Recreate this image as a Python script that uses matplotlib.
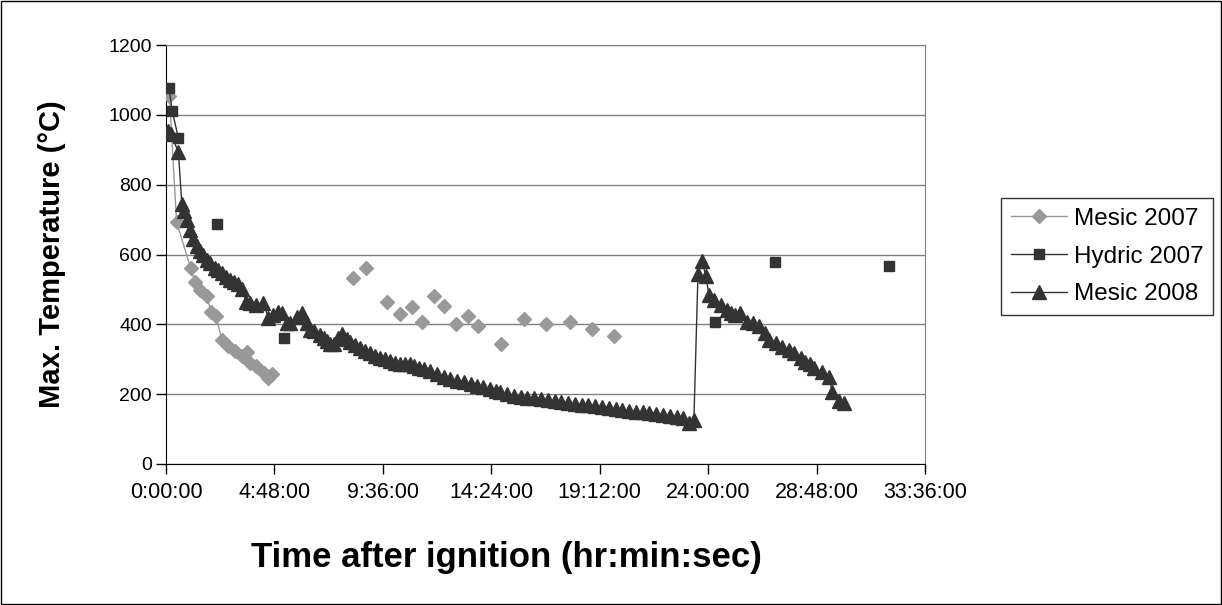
import matplotlib
matplotlib.use("Agg")
import matplotlib.pyplot as plt
from matplotlib.patches import Rectangle
from matplotlib.ticker import FixedLocator

plt.rcParams['font.family'] = ['Liberation Sans', 'DejaVu Sans']

# hours after ignition, max temperature (deg C)
mesic07_hours = [0.15, 0.47, 1.09, 1.28, 1.50, 1.80, 2.00, 2.20, 2.48, 2.75, 3.05, 3.35,
                 3.57, 3.72, 4.00, 4.35, 4.50, 4.68]
mesic07_temp = [1055, 692, 562, 522, 498, 482, 435, 425, 355, 338, 325, 308,
                320, 290, 280, 260, 246, 258]
mesic07_late_hours = [8.30, 8.85, 9.80, 10.35, 10.90, 11.33, 11.86, 12.30, 12.84, 13.37,
                      13.81, 14.82, 15.83, 16.83, 17.87, 18.86, 19.82]
mesic07_late_temp = [534, 562, 465, 431, 449, 408, 482, 453, 402, 425,
                     396, 345, 415, 402, 408, 386, 368]

hydric07_hours = [0.13, 0.28, 0.55]
hydric07_temp = [1077, 1010, 933]
hydric07_late_hours = [2.25, 5.24, 24.30, 26.96, 32.00]
hydric07_late_temp = [687, 362, 408, 578, 567]

mesic08_hours = [0.10, 0.22, 0.55, 0.70, 0.78, 0.92, 1.06, 1.21, 1.36, 1.50, 1.65, 1.80,
                 1.95, 2.17, 2.32, 2.47, 2.65, 2.84, 3.02, 3.20, 3.35, 3.55, 3.72, 4.00,
                 4.31, 4.53, 4.75, 4.95, 5.13, 5.35, 5.50, 5.79, 6.00, 6.24, 6.38, 6.53,
                 6.82, 7.00, 7.12, 7.27, 7.45, 7.62, 7.78, 8.00, 8.15, 8.35, 8.60, 8.80,
                 9.04, 9.25, 9.48, 9.70, 9.93, 10.15, 10.37, 10.60, 10.80, 10.96, 11.20,
                 11.40, 11.70, 12.00, 12.30, 12.58, 12.90, 13.17, 13.50, 13.77, 14.05,
                 14.35, 14.60, 14.80, 15.10, 15.40, 15.70, 16.00, 16.30, 16.60, 16.90,
                 17.20, 17.50, 17.80, 18.10, 18.40, 18.70, 19.00, 19.30, 19.60, 19.90,
                 20.20, 20.50, 20.80, 21.10, 21.40, 21.70, 22.00, 22.30, 22.60, 22.90,
                 23.15, 23.37, 23.55, 23.74, 23.90, 24.04, 24.26, 24.55, 24.84, 25.00,
                 25.20, 25.43, 25.73, 26.00, 26.23, 26.50, 26.70, 27.00, 27.28, 27.58,
                 27.80, 28.10, 28.30, 28.50, 28.70, 29.05, 29.35, 29.50, 29.80, 30.00]
mesic08_temp = [955, 945, 893, 745, 725, 700, 670, 645, 625, 610, 600, 585,
                575, 562, 555, 546, 535, 527, 520, 515, 500, 465, 460, 456,
                462, 418, 427, 435, 432, 405, 403, 420, 432, 405, 385, 380,
                370, 360, 352, 345, 345, 360, 372, 358, 350, 340, 333, 325,
                317, 310, 305, 300, 295, 290, 287, 285, 287, 282, 275,
                272, 265, 258, 250, 243, 238, 234, 228, 224, 220,
                215, 210, 205, 200, 196, 192, 190, 188, 185, 182,
                180, 177, 175, 172, 170, 168, 166, 164, 161, 158,
                155, 153, 150, 148, 146, 143, 140, 138, 135, 133,
                118, 127, 545, 580, 537, 484, 470, 456, 441, 432,
                428, 432, 408, 403, 394, 374, 355, 346, 336, 327,
                317, 303, 293, 285, 274, 264, 250, 207, 179, 174]

x_ticks = [0, 4.8, 9.6, 14.4, 19.2, 24.0, 28.8, 33.6]
x_labels = ['0:00:00', '4:48:00', '9:36:00', '14:24:00', '19:12:00',
            '24:00:00', '28:48:00', '33:36:00']
y_ticks = [0, 200, 400, 600, 800, 1000, 1200]

light = '#999999'
dark = '#333333'

fig = plt.figure(figsize=(12.22, 6.05), dpi=100)
ax = fig.add_axes([166 / 1222, 1 - 464 / 605, (925 - 166) / 1222, (464 - 45) / 605])

ax.plot(mesic07_hours, mesic07_temp, color=light, lw=1, marker='D', ms=7,
        mec=light, mfc=light, label='Mesic 2007', zorder=3)
ax.plot(mesic07_late_hours, mesic07_late_temp, ls='none', marker='D', ms=7,
        mec=light, mfc=light, zorder=3)
ax.plot(hydric07_hours, hydric07_temp, color=dark, lw=1, marker='s', ms=7.5,
        mec=dark, mfc=dark, label='Hydric 2007', zorder=4)
ax.plot(hydric07_late_hours, hydric07_late_temp, ls='none', marker='s', ms=7.5,
        mec=dark, mfc=dark, zorder=4)
ax.plot(mesic08_hours, mesic08_temp, color=dark, lw=1, marker='^', ms=9.5,
        mec=dark, mfc=dark, label='Mesic 2008', zorder=5)

ax.set_xlim(0, 33.6)
ax.set_ylim(0, 1200)
ax.xaxis.set_major_locator(FixedLocator(x_ticks))
ax.set_xticklabels(x_labels)
ax.yaxis.set_major_locator(FixedLocator(y_ticks))
ax.tick_params(direction='out', length=7, width=1, colors='black')
ax.tick_params(axis='x', labelsize=15.5, pad=6)
ax.tick_params(axis='y', labelsize=14, pad=3)
ax.yaxis.grid(True, color='#808080', lw=1)
ax.set_axisbelow(True)
for side in ['top', 'right']:
    ax.spines[side].set_color('#808080')
for side in ['left', 'bottom']:
    ax.spines[side].set_color('black')

ax.set_ylabel('Max. Temperature (°C)', fontsize=21, fontweight='bold', va='center')
ax.yaxis.set_label_coords((52 - 166) / 759, 0.5)
ax.set_xlabel('Time after ignition (hr:min:sec)', fontsize=25, fontweight='bold', va='center')
ax.xaxis.set_label_coords((506 - 166) / 759, (464 - 557) / 419)

leg = ax.legend(loc='upper left', bbox_to_anchor=(1001 / 1222, 1 - 198 / 605),
                bbox_transform=fig.transFigure, fontsize=17.5, frameon=True,
                fancybox=False, edgecolor='black', borderpad=0.4, labelspacing=0.65,
                handlelength=2.3, handletextpad=0.3, borderaxespad=0)
leg.get_frame().set_linewidth(1)

fig.patches.append(Rectangle((0.0008, 0.0016), 0.9984, 0.9968, transform=fig.transFigure,
                             fill=False, edgecolor='black', lw=1))

fig.savefig('out.png', dpi=100)
